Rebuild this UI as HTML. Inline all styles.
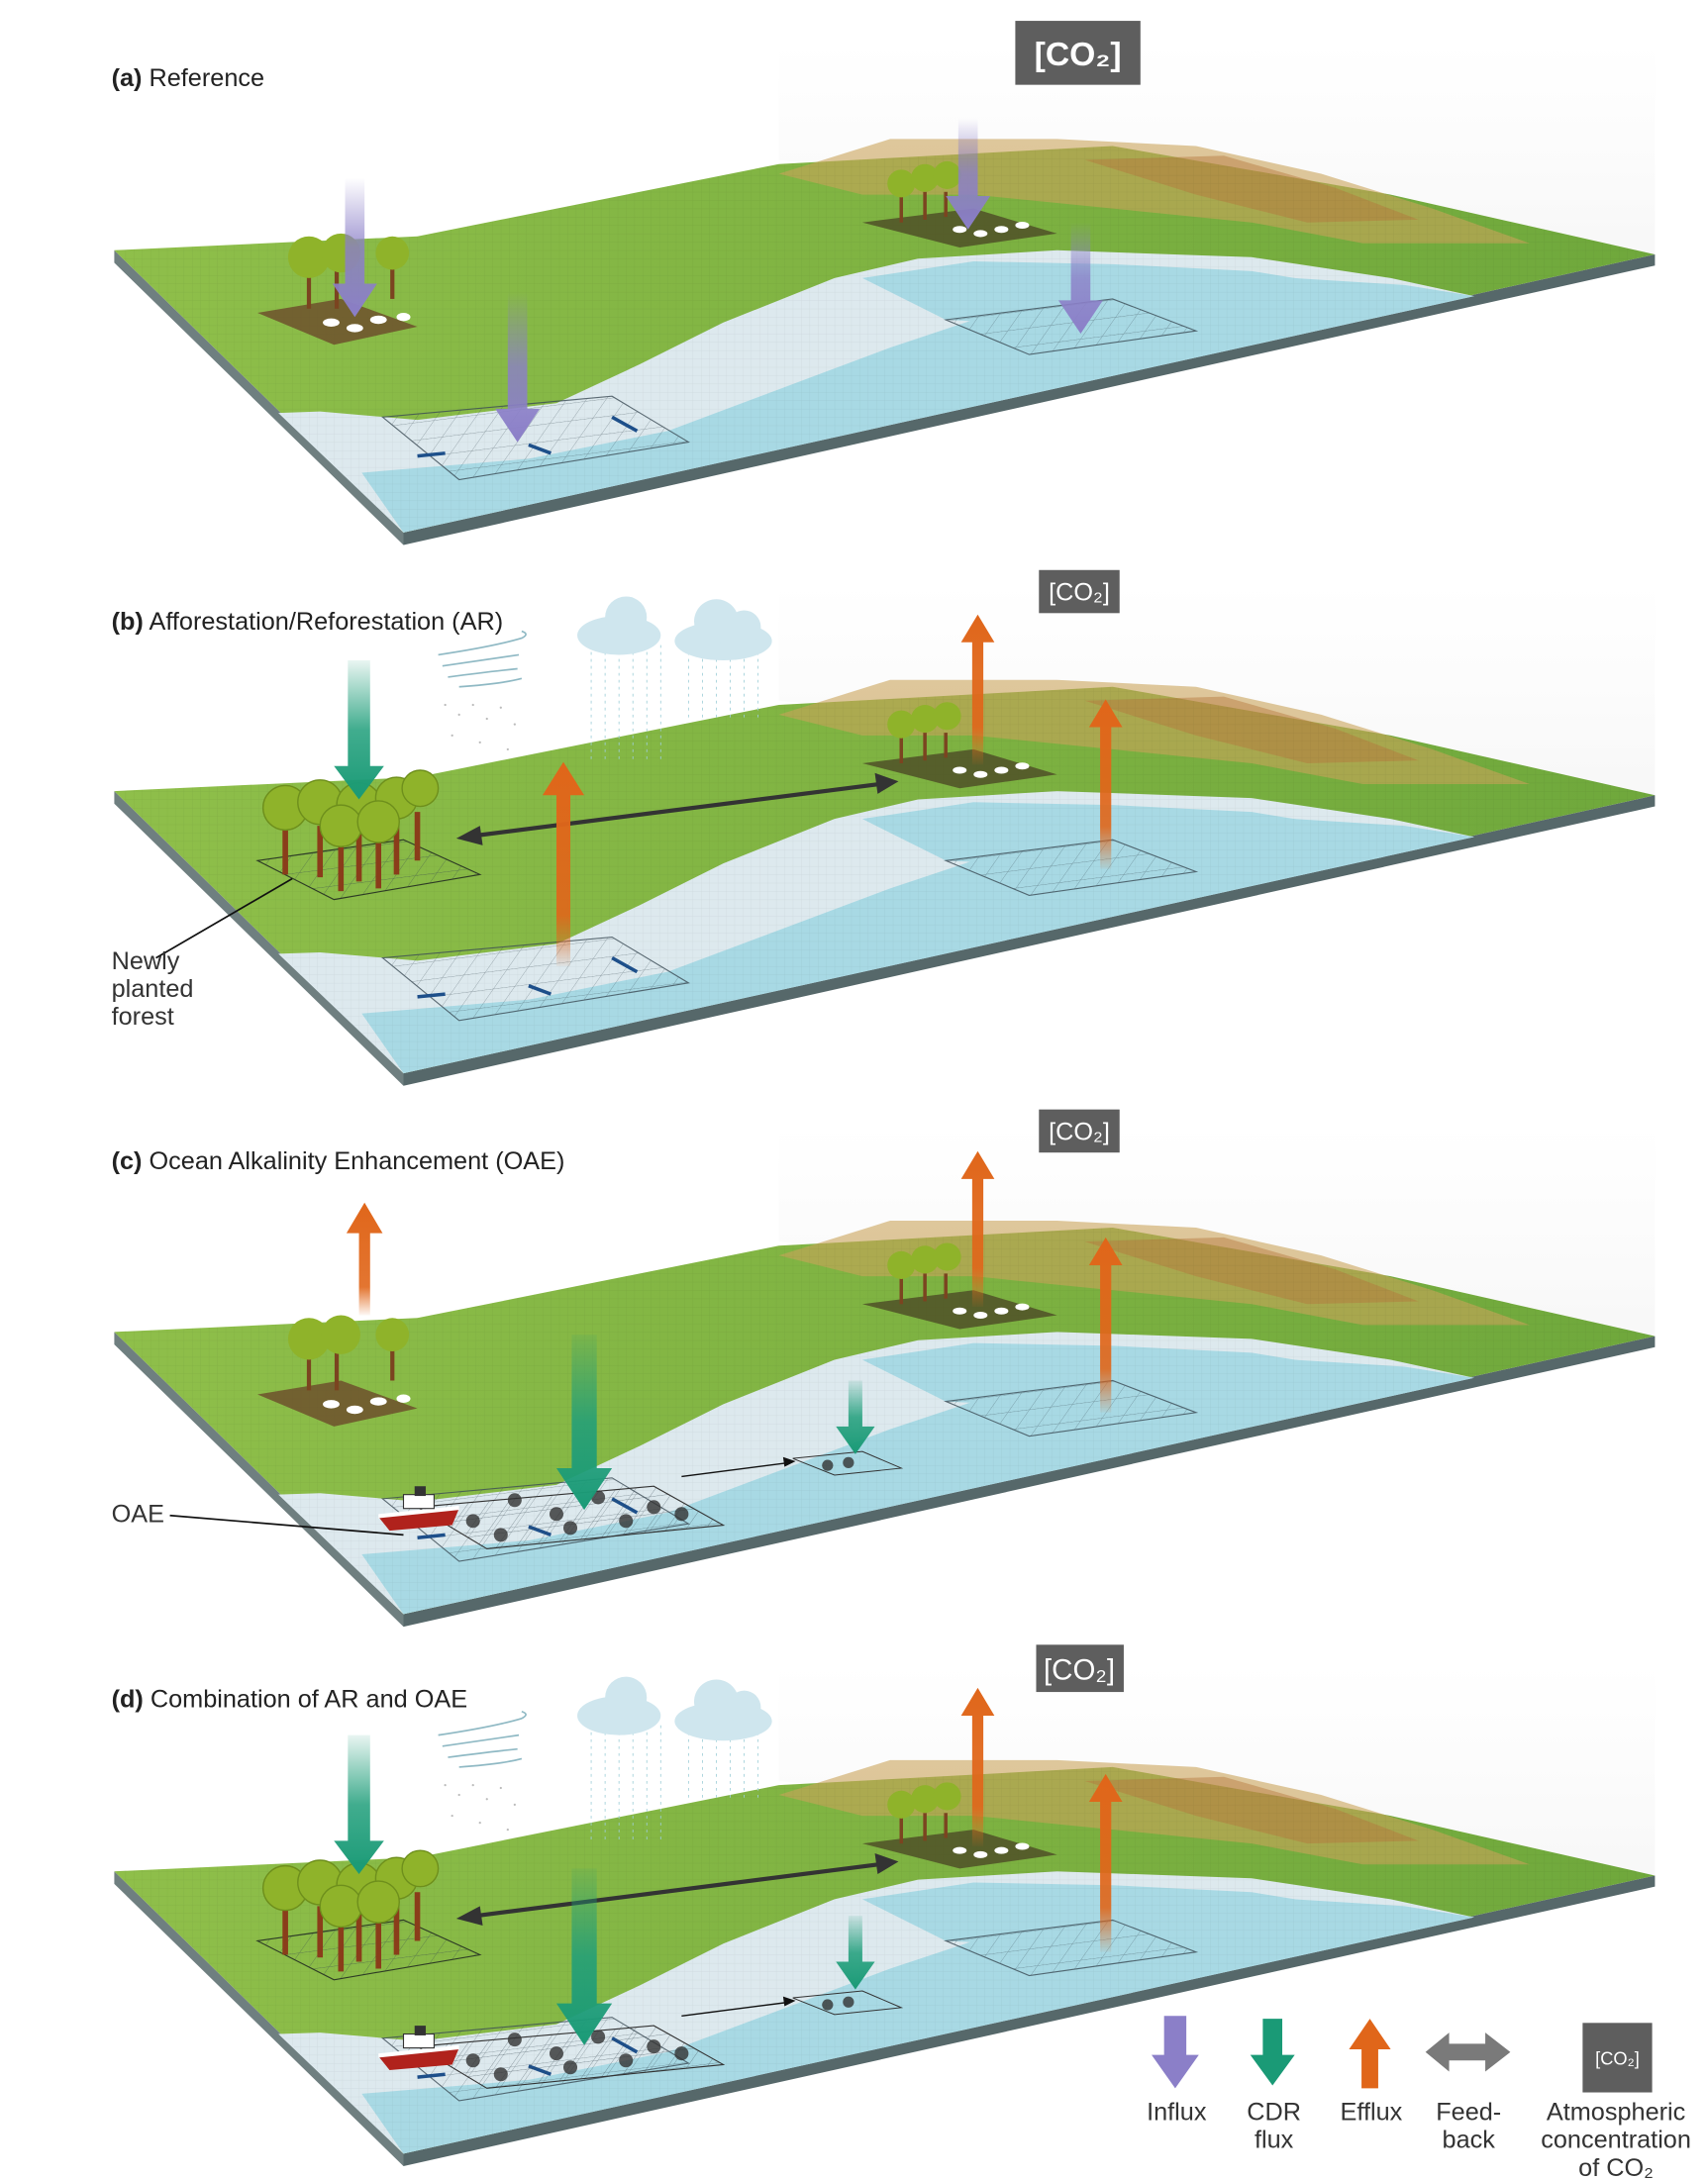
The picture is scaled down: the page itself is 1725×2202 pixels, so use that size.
<!DOCTYPE html>
<html><head><meta charset="utf-8">
<style>
html,body{margin:0;padding:0;background:#fff;}
svg{display:block;}
text{font-family:"Liberation Sans",sans-serif;}
</style></head>
<body>
<svg width="1725" height="2202" viewBox="0 0 1228 1568" xmlns="http://www.w3.org/2000/svg">
<defs>
  <linearGradient id="gp" x1="0" y1="0" x2="0" y2="1">
    <stop offset="0" stop-color="#8b7fc8" stop-opacity="0"/>
    <stop offset="0.5" stop-color="#8b7fc8" stop-opacity="0.8"/>
    <stop offset="1" stop-color="#8b7fc8"/>
  </linearGradient>
  <linearGradient id="gg" x1="0" y1="0" x2="0" y2="1">
    <stop offset="0" stop-color="#1f9e7a" stop-opacity="0.1"/>
    <stop offset="0.5" stop-color="#1f9e7a" stop-opacity="0.85"/>
    <stop offset="1" stop-color="#1a9a76"/>
  </linearGradient>
  <linearGradient id="go" x1="0" y1="0" x2="0" y2="1">
    <stop offset="0" stop-color="#e0661a"/>
    <stop offset="0.75" stop-color="#e0661a" stop-opacity="0.9"/>
    <stop offset="1" stop-color="#e0661a" stop-opacity="0.05"/>
  </linearGradient>
  <linearGradient id="land" x1="0" y1="0" x2="1" y2="0">
    <stop offset="0" stop-color="#8fbf4a"/>
    <stop offset="0.5" stop-color="#7fb342"/>
    <stop offset="1" stop-color="#6fa83c"/>
  </linearGradient>
  <linearGradient id="sky" x1="0" y1="0" x2="0" y2="1">
    <stop offset="0" stop-color="#f2f2f2" stop-opacity="0"/>
    <stop offset="1" stop-color="#eeeeee" stop-opacity="0.45"/>
  </linearGradient>
  <pattern id="grid" width="6" height="6" patternUnits="userSpaceOnUse">
    <path d="M6 0H0V6" fill="none" stroke="#000" stroke-opacity="0.07" stroke-width="0.5"/>
  </pattern>
  <pattern id="grid2" width="14" height="14" patternUnits="userSpaceOnUse" patternTransform="skewX(-40) rotate(-8)">
    <path d="M14 0H0V14" fill="none" stroke="#34454f" stroke-opacity="0.55" stroke-width="0.7"/>
  </pattern>
  <g id="base">
    <polygon points="560,30 1190,30 1190,183 560,115" fill="url(#sky)"/>
    <polygon points="82,180 290,383 290,392 82,189" fill="#6f7f80"/>
    <polygon points="290,383 1190,183 1190,191 290,392" fill="#56686a"/>
    <polygon points="82,180 300,170 560,118 800,105 1000,140 1190,183 290,383" fill="url(#land)"/>
    <polygon points="560,125 640,100 760,100 860,105 950,125 1030,150 1100,175 980,175 900,160 800,150 700,140 620,140" fill="#c9a35a" opacity="0.6"/>
    <polygon points="780,115 880,112 960,135 1020,158 940,160 860,140" fill="#b5763c" opacity="0.45"/>
    <polygon points="200,297 290,383 1060,213 1000,200 900,185 760,180 660,186 600,200 520,232 460,262 400,290 300,302 230,296" fill="#dde9ee"/>
    <polygon points="260,340 290,383 1060,213 1010,205 930,200 840,205 760,215 700,230 640,250 560,280 480,310 380,330" fill="#a8d9e4"/>
    <polygon points="620,200 700,188 800,190 900,195 980,208 900,225 780,235 680,230" fill="#a8d9e4"/>
    <polygon points="82,180 300,170 560,118 800,105 1000,140 1190,183 290,383" fill="url(#grid)"/>
    <polygon points="275,300 440,285 495,318 330,345" fill="url(#grid2)" stroke="#3b4b55" stroke-width="0.8" opacity="0.8"/>
    <polygon points="680,230 800,215 860,238 740,255" fill="url(#grid2)" stroke="#3b4b55" stroke-width="0.8" opacity="0.8"/>
    <path d="M380,320 l16,6 M440,300 l18,10 M300,328 l20,-2" stroke="#1d4f8a" stroke-width="2.5"/>
  </g>
  <g id="farmA">
    <polygon points="185,225 245,215 300,235 240,248" fill="#6b4a2a" opacity="0.8"/>
    <g fill="#fff"><ellipse cx="238" cy="232" rx="6" ry="3"/><ellipse cx="255" cy="236" rx="6" ry="3"/><ellipse cx="272" cy="230" rx="6" ry="3"/><ellipse cx="290" cy="228" rx="5" ry="3"/></g>
    <g stroke="#7b4420" stroke-width="3"><line x1="222" y1="195" x2="222" y2="222"/><line x1="242" y1="195" x2="242" y2="222"/><line x1="282" y1="192" x2="282" y2="215"/></g>
    <g fill="#8fb32a"><circle cx="222" cy="185" r="15"/><circle cx="245" cy="182" r="14"/><circle cx="282" cy="182" r="12"/></g>
  </g>
  <g id="farmB">
    <polygon points="620,160 700,150 760,168 690,178" fill="#4c4a25" opacity="0.8"/>
    <g fill="#fff"><ellipse cx="690" cy="165" rx="5" ry="2.5"/><ellipse cx="705" cy="168" rx="5" ry="2.5"/><ellipse cx="720" cy="165" rx="5" ry="2.5"/><ellipse cx="735" cy="162" rx="5" ry="2.5"/></g>
    <g stroke="#7b4420" stroke-width="2.5"><line x1="648" y1="140" x2="648" y2="160"/><line x1="665" y1="138" x2="665" y2="158"/><line x1="680" y1="138" x2="680" y2="156"/></g>
    <g fill="#8fb32a"><circle cx="648" cy="132" r="10"/><circle cx="665" cy="128" r="10"/><circle cx="681" cy="126" r="10"/></g>
  </g>
  <g id="forest">
    <polygon points="185,230 290,215 345,240 240,258" fill="url(#grid2)" stroke="#2d3b25" stroke-width="0.8"/>
    <g stroke="#8a3d1a" stroke-width="4">
      <line x1="205" y1="205" x2="205" y2="240"/><line x1="230" y1="205" x2="230" y2="242"/><line x1="258" y1="205" x2="258" y2="245"/><line x1="285" y1="200" x2="285" y2="240"/><line x1="300" y1="195" x2="300" y2="230"/><line x1="245" y1="215" x2="245" y2="252"/><line x1="272" y1="215" x2="272" y2="250"/>
    </g>
    <g fill="#8fb32a" stroke="#6e8f1c" stroke-width="1">
      <circle cx="205" cy="192" r="16"/><circle cx="230" cy="188" r="16"/><circle cx="258" cy="190" r="16"/><circle cx="285" cy="185" r="15"/><circle cx="302" cy="178" r="13"/><circle cx="245" cy="205" r="15"/><circle cx="272" cy="202" r="15"/>
    </g>
  </g>
  <g id="clouds">
    <g stroke="#9fcfd8" stroke-width="0.6" stroke-dasharray="2 3">
      <line x1="425" y1="75" x2="425" y2="160"/><line x1="435" y1="75" x2="435" y2="160"/><line x1="445" y1="75" x2="445" y2="160"/><line x1="455" y1="75" x2="455" y2="160"/><line x1="465" y1="75" x2="465" y2="160"/><line x1="475" y1="75" x2="475" y2="160"/><line x1="495" y1="75" x2="495" y2="130"/><line x1="505" y1="75" x2="505" y2="130"/><line x1="515" y1="75" x2="515" y2="130"/><line x1="525" y1="75" x2="525" y2="130"/><line x1="535" y1="75" x2="535" y2="130"/><line x1="545" y1="75" x2="545" y2="130"/>
    </g>
    <g fill="#cfe6ee"><ellipse cx="445" cy="68" rx="30" ry="14"/><circle cx="450" cy="55" r="15"/><ellipse cx="520" cy="72" rx="35" ry="14"/><circle cx="515" cy="58" r="16"/><circle cx="535" cy="62" r="12"/></g>
    <g fill="none" stroke="#8fb9c4" stroke-width="1.2"><path d="M315,82 q40,-6 60,-12 q6,-3 0,-5"/><path d="M318,90 q35,-5 55,-8"/><path d="M322,98 q30,-4 50,-6"/><path d="M330,105 q30,-2 45,-6"/></g>
    <g fill="#bbb"><circle cx="320" cy="118" r="0.8"/><circle cx="330" cy="125" r="0.8"/><circle cx="340" cy="118" r="0.8"/><circle cx="350" cy="128" r="0.8"/><circle cx="360" cy="120" r="0.8"/><circle cx="370" cy="132" r="0.8"/><circle cx="325" cy="140" r="0.8"/><circle cx="345" cy="145" r="0.8"/><circle cx="365" cy="150" r="0.8"/></g>
  </g>
  <g id="oae">
    <polygon points="300,695 470,680 520,708 350,725" fill="url(#grid2)" stroke="#333" stroke-width="0.8" transform="translate(0,-389)"/>
    <g fill="#333" opacity="0.8" transform="translate(0,-389)">
      <circle cx="340" cy="705" r="5"/><circle cx="370" cy="690" r="5"/><circle cx="400" cy="700" r="5"/><circle cx="430" cy="688" r="5"/><circle cx="470" cy="695" r="5"/><circle cx="360" cy="715" r="5"/><circle cx="410" cy="710" r="5"/><circle cx="450" cy="705" r="5"/><circle cx="490" cy="700" r="5"/>
    </g>
    <g transform="translate(0,-389)">
      <polygon points="272,702 330,696 325,708 280,712" fill="#b0221c"/>
      <polygon points="272,700 330,694 330,697 272,703" fill="#fff"/>
      <rect x="290" y="686" width="22" height="10" fill="#fff" stroke="#333" stroke-width="0.8"/>
      <rect x="298" y="680" width="8" height="7" fill="#333"/>
    </g>
    <polygon points="570,271 620,266 648,278 600,283" fill="none" stroke="#333" stroke-width="0.7"/>
    <g fill="#333" opacity="0.8"><circle cx="595" cy="276" r="4"/><circle cx="610" cy="274" r="4"/></g>
    <line x1="490" y1="284" x2="568" y2="274" stroke="#111" stroke-width="1"/>
    <polygon points="572,273 563,270 564,277" fill="#111"/>
  </g>
</defs>

<g>
  <use href="#base"/>
  <use href="#farmA"/>
  <use href="#farmB"/>
  <rect x="730" y="15" width="90" height="46" fill="#5e5e5e"/>
  <text x="775" y="47" font-size="24" font-weight="bold" fill="#fff" text-anchor="middle">[CO₂]</text>
  <text x="80" y="62" font-size="18" fill="#222"><tspan font-weight="bold">(a)</tspan> Reference</text>
  <polygon points="248,128 262,128 262,204 271,204 255,228 239,204 248,204" fill="url(#gp)"/>
  <polygon points="365,210 379,210 379,294 388,294 372,318 356,294 365,294" fill="url(#gp)"/>
  <polygon points="689,85 703,85 703,141 712,141 696,165 680,141 689,141" fill="url(#gp)"/>
  <polygon points="770,160 784,160 784,216 793,216 777,240 761,216 770,216" fill="url(#gp)"/>
</g>

<g transform="translate(0,389)">
  <use href="#base"/>
  <use href="#farmB"/>
  <use href="#forest"/>
  <use href="#clouds"/>
  <rect x="747" y="21" width="58" height="31" fill="#5e5e5e"/>
  <text x="776" y="43" font-size="18" fill="#fff" text-anchor="middle">[CO₂]</text>
  <text x="80" y="64" font-size="18" fill="#222"><tspan font-weight="bold">(b)</tspan> Afforestation/Reforestation (AR)</text>
  <polygon points="250,86 266,86 266,162 276,162 258,186 240,162 250,162" fill="url(#gg)"/>
  <g stroke="#333" stroke-width="3"><line x1="342" y1="212" x2="632" y2="175"/></g>
  <polygon points="328,214 345,205 347,219" fill="#333"/><polygon points="646,173 629,167 631,182" fill="#333"/>
  <polygon points="405,159 420,183 410,183 410,306 400,306 400,183 390,183" fill="url(#go)"/>
  <polygon points="703,53 715,73 707,73 707,161 699,161 699,73 691,73" fill="url(#go)"/>
  <polygon points="795,114 807,134 799,134 799,236 791,236 791,134 783,134" fill="url(#go)"/>
  <line x1="210" y1="243" x2="112" y2="300" stroke="#111" stroke-width="1.2"/>
  <text x="80" y="308" font-size="18" fill="#333">Newly</text>
  <text x="80" y="328" font-size="18" fill="#333">planted</text>
  <text x="80" y="348" font-size="18" fill="#333">forest</text>
</g>

<g transform="translate(0,778)">
  <use href="#base"/>
  <use href="#farmA"/>
  <use href="#farmB"/>
  <use href="#oae"/>
  <rect x="747" y="20" width="58" height="31" fill="#5e5e5e"/>
  <text x="776" y="42" font-size="18" fill="#fff" text-anchor="middle">[CO₂]</text>
  <text x="80" y="63" font-size="18" fill="#222"><tspan font-weight="bold">(c)</tspan> Ocean Alkalinity Enhancement (OAE)</text>
  <polygon points="262,87 275,109 266,109 266,168 258,168 258,109 249,109" fill="url(#go)"/>
  <polygon points="703,50 715,70 707,70 707,162 699,162 699,70 691,70" fill="url(#go)"/>
  <polygon points="795,112 807,132 799,132 799,238 791,238 791,132 783,132" fill="url(#go)"/>
  <polygon points="411,182 429,182 429,278 440,278 420,308 400,278 411,278" fill="url(#gg)"/>
  <polygon points="610,215 620,215 620,248 629,248 615,268 601,248 610,248" fill="url(#gg)"/>
  <line x1="122" y1="312" x2="290" y2="326" stroke="#111" stroke-width="1.2"/>
  <text x="80" y="317" font-size="18" fill="#333">OAE</text>
</g>

<g transform="translate(0,1166)">
  <use href="#base"/>
  <use href="#farmB"/>
  <use href="#forest"/>
  <use href="#clouds"/>
  <use href="#oae"/>
  <rect x="745" y="17" width="63" height="34" fill="#5e5e5e"/>
  <text x="776" y="42" font-size="21" fill="#fff" text-anchor="middle">[CO₂]</text>
  <text x="80" y="62" font-size="18" fill="#222"><tspan font-weight="bold">(d)</tspan> Combination of AR and OAE</text>
  <polygon points="250,82 266,82 266,158 276,158 258,182 240,158 250,158" fill="url(#gg)"/>
  <g stroke="#333" stroke-width="3"><line x1="342" y1="212" x2="632" y2="175"/></g>
  <polygon points="328,214 345,205 347,219" fill="#333"/><polygon points="646,173 629,167 631,182" fill="#333"/>
  <polygon points="411,178 429,178 429,275 440,275 420,305 400,275 411,275" fill="url(#gg)"/>
  <polygon points="610,212 620,212 620,245 629,245 615,265 601,245 610,245" fill="url(#gg)"/>
  <polygon points="703,48 715,68 707,68 707,162 699,162 699,68 691,68" fill="url(#go)"/>
  <polygon points="795,110 807,130 799,130 799,238 791,238 791,130 783,130" fill="url(#go)"/>
</g>

<g>
  <polygon points="837,1450 853,1450 853,1478 862,1478 845,1502 828,1478 837,1478" fill="#8b7fc8"/>
  <polygon points="908,1452 922,1452 922,1478 931,1478 915,1500 899,1478 908,1478" fill="#1a9a76"/>
  <polygon points="985,1452 1000,1474 991,1474 991,1502 979,1502 979,1474 970,1474" fill="#e0661a"/>
  <polygon points="1025,1476 1042,1462 1042,1470 1068,1470 1068,1462 1086,1476 1068,1490 1068,1482 1042,1482 1042,1490" fill="#7a7a7a"/>
  <rect x="1138" y="1455" width="50" height="50" fill="#5e5e5e"/>
  <text x="1163" y="1485" font-size="13" fill="#fff" text-anchor="middle">[CO₂]</text>
  <g font-size="18" fill="#333" text-anchor="middle">
    <text x="846" y="1525">Influx</text>
    <text x="916" y="1525">CDR</text><text x="916" y="1545">flux</text>
    <text x="986" y="1525">Efflux</text>
    <text x="1056" y="1525">Feed-</text><text x="1056" y="1545">back</text>
    <text x="1162" y="1525">Atmospheric</text><text x="1162" y="1545">concentration</text><text x="1162" y="1565">of CO₂</text>
  </g>
</g>
</svg>
</body></html>
